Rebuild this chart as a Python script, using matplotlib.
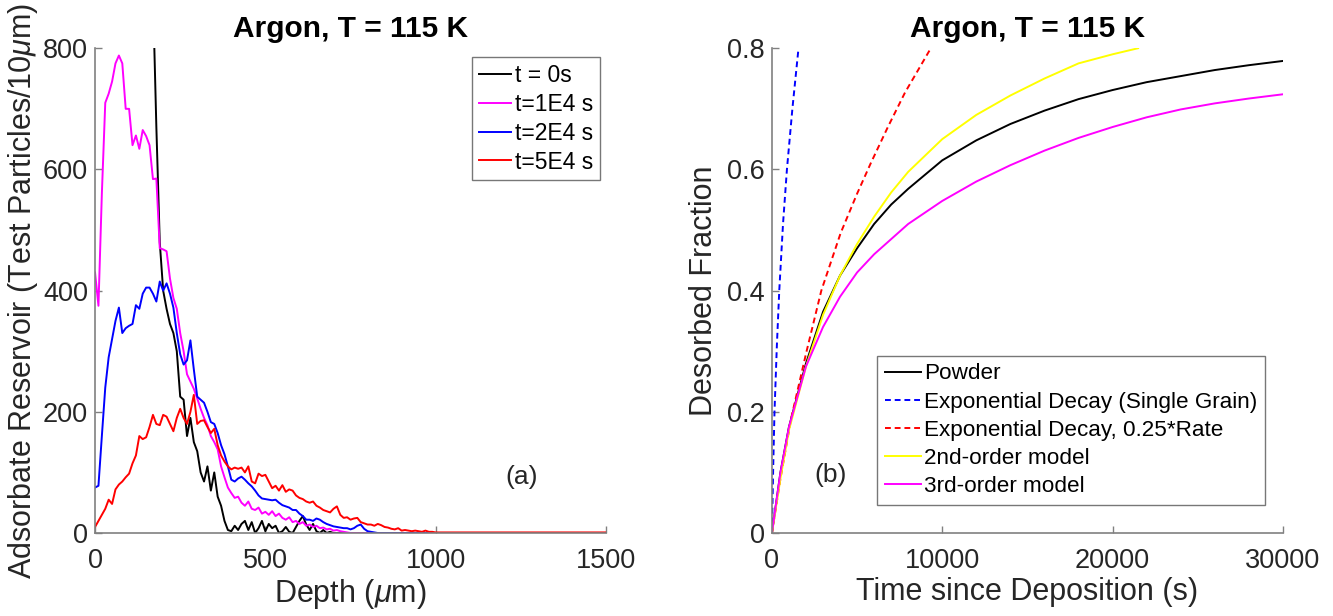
import numpy as np
import matplotlib
matplotlib.use("Agg")
import matplotlib.pyplot as plt

plt.rcParams["font.family"] = ["Liberation Sans", "DejaVu Sans"]
plt.rcParams["mathtext.fontset"] = "custom"
plt.rcParams["mathtext.it"] = "Liberation Sans:italic"
plt.rcParams["mathtext.rm"] = "Liberation Sans"

# --- panel (a): adsorbate reservoir vs depth (10 um bins) ---
depth = list(range(0, 1010, 10)) + [1500]

res_t0 = [1000] * 17 + [
    890, 670, 480, 400, 370, 345, 330, 300, 225, 220,
    160, 190, 150, 135, 100, 85, 110, 70, 100, 60,
    45, 20, 5, 3, 12, 5, 15, 20, 5, 18,
    0, 8, 20, 3, 15, 8, 12, 0, 3, 10,
    2, 0, 10, 20, 28, 14, 5, 15, 3, 0,
    5, 0, 2] + [0] * 31 + [0]

res_1e4 = [
    430, 375, 560, 710, 725, 745, 775, 788, 775, 700,
    700, 640, 656, 634, 665, 655, 640, 584, 585, 470,
    468, 465, 420, 388, 370, 330, 300, 262, 250, 238,
    222, 205, 190, 178, 160, 150, 138, 110, 92, 75,
    66, 58, 60, 50, 45, 52, 40, 38, 42, 32,
    35, 30, 36, 28, 32, 25, 22, 26, 18, 20,
    15, 18, 12, 14, 10, 12, 8, 9, 6, 7,
    4, 5, 3, 2, 1] + [0] * 26 + [0]

res_2e4 = [
    75, 78, 160, 240, 290, 320, 350, 372, 330, 338,
    342, 345, 376, 370, 395, 405, 405, 395, 382, 415,
    400, 412, 395, 372, 330, 295, 278, 285, 318, 270,
    225, 220, 215, 200, 183, 180, 165, 145, 130, 110,
    88, 85, 90, 93, 88, 82, 77, 70, 62, 57,
    56, 55, 54, 55, 50, 46, 44, 42, 38, 38,
    32, 28, 22, 22, 20, 24, 22, 18, 15, 13,
    11, 10, 9, 8, 8, 6, 8, 12, 14, 7,
    3, 2, 1] + [0] * 18 + [0]

res_5e4 = [
    10, 20, 30, 40, 55, 48, 72, 80, 85, 92,
    98, 115, 128, 160, 155, 158, 175, 195, 180, 178,
    195, 192, 180, 168, 190, 205, 190, 180, 200, 228,
    180, 185, 186, 175, 165, 172, 145, 128, 118, 110,
    105, 108, 106, 108, 100, 110, 85, 82, 98, 94,
    96, 85, 74, 78, 70, 79, 68, 72, 70, 62,
    58, 56, 52, 50, 52, 45, 42, 38, 36, 34,
    40, 44, 30, 25, 26, 22, 24, 25, 18, 16,
    14, 14, 12, 15, 13, 10, 9, 7, 6, 8,
    4, 5, 4, 3, 4, 3, 2, 4, 2, 2,
    1, 1]

# --- panel (b): desorbed fraction vs time ---
t_powder = [0, 500, 1000, 2000, 3000, 4000, 5000, 6000, 7000, 8000, 10000,
            12000, 14000, 16000, 18000, 20000, 22000, 24000, 26000, 28000, 30000]
f_powder = [0, 0.10, 0.175, 0.28, 0.365, 0.425, 0.47, 0.51, 0.542, 0.568, 0.615,
            0.648, 0.675, 0.697, 0.716, 0.731, 0.744, 0.754, 0.764, 0.772, 0.779]

t_exp1 = [0, 75, 150, 290, 430, 650, 880, 1200, 1560]
f_exp1 = [0, 0.11, 0.2, 0.31, 0.4, 0.51, 0.6, 0.7, 0.8]

t_exp025 = [0, 500, 1134, 2017, 2899, 4034, 5000, 5798, 6807, 7815, 8500, 9328]
f_exp025 = [0, 0.09, 0.19, 0.298, 0.4, 0.495, 0.56, 0.61, 0.67, 0.727, 0.76, 0.8]

t_2nd = [0, 500, 1000, 2000, 3000, 4000, 5000, 6000, 7000, 8000, 10000,
         12000, 14000, 16000, 18000, 20000, 21500]
f_2nd = [0, 0.09, 0.17, 0.275, 0.36, 0.425, 0.477, 0.522, 0.562, 0.596, 0.65,
         0.69, 0.722, 0.75, 0.775, 0.79, 0.80]

t_3rd = [0, 500, 1000, 2000, 3000, 4000, 5000, 6000, 8000, 10000, 12000,
         14000, 16000, 18000, 20000, 22000, 24000, 26000, 28000, 30000]
f_3rd = [0, 0.10, 0.175, 0.275, 0.34, 0.39, 0.43, 0.46, 0.51, 0.548, 0.58,
         0.607, 0.631, 0.652, 0.67, 0.686, 0.699, 0.709, 0.717, 0.724]

axis_gray = "#808080"
text_col = "#262626"
tick_fs = 19.5
label_fs = 22
title_fs = 21.5


def style_axes(ax):
    for side in ("top", "right"):
        ax.spines[side].set_visible(False)
    for side in ("left", "bottom"):
        ax.spines[side].set_color(axis_gray)
        ax.spines[side].set_linewidth(1.2)
    ax.tick_params(direction="in", length=5, width=1, color=axis_gray,
                   labelcolor=text_col, labelsize=tick_fs)
    ax.tick_params(axis="y", pad=5)
    ax.tick_params(axis="x", pad=11)


def add_legend(ax, anchor, fs, spacing, bpad, hlen):
    leg = ax.legend(loc="upper left", bbox_to_anchor=anchor, fontsize=fs,
                    frameon=True, fancybox=False, edgecolor="#555555",
                    handlelength=hlen, handletextpad=0.15, borderpad=bpad,
                    labelspacing=spacing, borderaxespad=0)
    leg.get_frame().set_linewidth(1.0)
    return leg


fig = plt.figure(figsize=(13.33, 6.16), dpi=100)
ax1 = fig.add_axes([0.0713, 0.1347, 0.3833, 0.787])
ax2 = fig.add_axes([0.5791, 0.1347, 0.3833, 0.787])

lw = 1.4
ax1.plot(depth, res_t0, color="black", lw=lw, label="t = 0s")
ax1.plot(depth, res_1e4, color="#ff00ff", lw=lw, label="t=1E4 s")
ax1.plot(depth, res_2e4, color="#0000ff", lw=lw, label="t=2E4 s")
ax1.plot(depth, res_5e4, color="#ff0000", lw=lw, label="t=5E4 s")
ax1.set_xlim(0, 1500)
ax1.set_ylim(0, 800)
ax1.set_xticks([0, 500, 1000, 1500])
ax1.set_yticks([0, 200, 400, 600, 800])
style_axes(ax1)
ax1.set_xlabel(r"Depth ($\mu$m)", fontsize=label_fs, color=text_col, labelpad=2)
ax1.set_ylabel(r"Adsorbate Reservoir (Test Particles/10$\mu$m)", fontsize=label_fs,
               color=text_col, labelpad=2)
ax1.set_title("Argon, T = 115 K", fontsize=title_fs, fontweight="bold", pad=8)
ax1.text(1252, 92, "(a)", fontsize=19, color=text_col, ha="center", va="center")
add_legend(ax1, (0.738, 0.981), 16.5, 0.25, 0.3, 1.4)

ax2.plot(t_powder, f_powder, color="black", lw=lw, label="Powder")
ax2.plot(t_exp1, f_exp1, color="#0000ff", lw=lw, ls=(0, (3, 2)),
         label="Exponential Decay (Single Grain)")
ax2.plot(t_exp025, f_exp025, color="#ff0000", lw=lw, ls=(0, (3, 2)),
         label="Exponential Decay, 0.25*Rate")
ax2.plot(t_2nd, f_2nd, color="#ffff00", lw=lw, label="2nd-order model")
ax2.plot(t_3rd, f_3rd, color="#ff00ff", lw=lw, label="3rd-order model")
ax2.set_xlim(0, 30000)
ax2.set_ylim(0, 0.8)
ax2.set_xticks([0, 10000, 20000, 30000])
ax2.set_yticks([0, 0.2, 0.4, 0.6, 0.8])
ax2.set_yticklabels(["0", "0.2", "0.4", "0.6", "0.8"])
style_axes(ax2)
ax2.set_xlabel("Time since Deposition (s)", fontsize=label_fs, color=text_col, labelpad=2)
ax2.set_ylabel("Desorbed Fraction", fontsize=label_fs, color=text_col, labelpad=6)
ax2.set_title("Argon, T = 115 K", fontsize=title_fs, fontweight="bold", pad=8)
ax2.text(3434, 0.095, "(b)", fontsize=19, color=text_col, ha="center", va="center")
add_legend(ax2, (0.205, 0.366), 16.2, 0.32, 0.35, 1.6)

fig.savefig("out.png", dpi=100, facecolor="white")
